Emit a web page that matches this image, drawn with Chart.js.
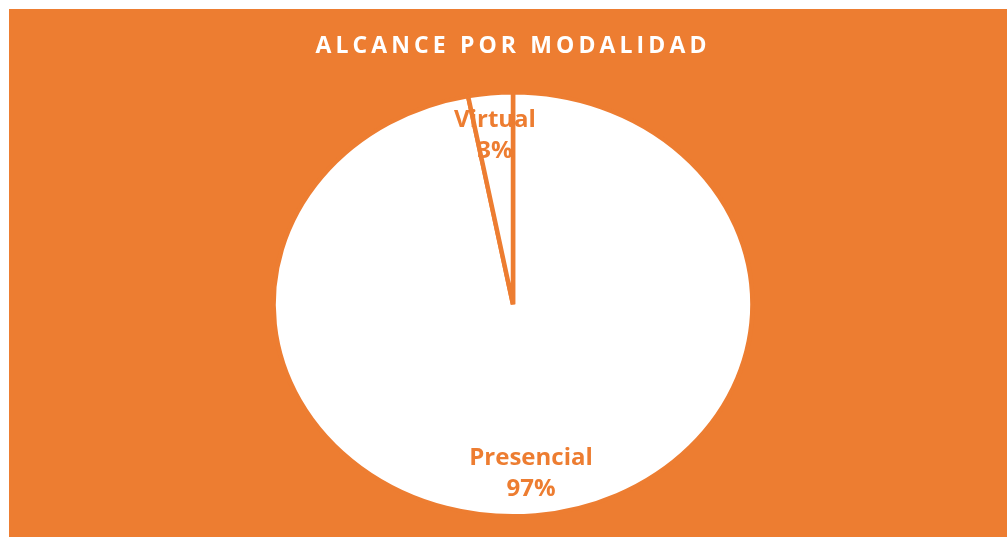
<!DOCTYPE html>
<html>
<head>
<meta charset="utf-8">
<script src="https://cdn.jsdelivr.net/npm/chart.js@4/dist/chart.umd.min.js"></script>
<style>
    html, body { margin: 0; padding: 0; background: #ffffff; overflow: hidden; }
    #frame {
        position: absolute; left: 9px; top: 9px;
        width: 998px; height: 528px;
        background: #ED7D31; overflow: hidden;
    }
    #wrap { position: absolute; left: 0; top: 0; width: 998px; height: 545px; }
</style>
</head>
<body>
<div id="frame"><div id="wrap"><canvas id="pieChart"></canvas></div></div>
<script>
const categories = ['Presencial', 'Virtual'];
const values = [97, 3];
const valueLabels = ['97%', '3%'];

const orange = '#ED7D31';
const ySquash = 421 / 476; // the reference pie is a little flatter than a circle

// squash the pie vertically around its centre, then write the labels
const ellipsePlugin = {
    id: 'ellipse',
    beforeDraw: (chart) => {
        chart.ctx.letterSpacing = '4.1px';
    },
    beforeDatasetsDraw: (chart) => {
        const arc = chart.getDatasetMeta(0).data[0];
        const ctx = chart.ctx;
        ctx.save();
        ctx.letterSpacing = '0px';
        ctx.translate(arc.x, arc.y);
        ctx.scale(1, ySquash);
        ctx.translate(-arc.x, -arc.y);
    },
    afterDatasetsDraw: (chart) => {
        const ctx = chart.ctx;
        ctx.restore();
        ctx.save();
        ctx.letterSpacing = '0px';
        ctx.fillStyle = orange;
        ctx.font = 'bold 24px "Open Sans"';
        ctx.textAlign = 'center';
        ctx.textBaseline = 'middle';
        chart.getDatasetMeta(0).data.forEach((arc, i) => {
            const mid = (arc.startAngle + arc.endAngle) / 2;
            const r = arc.outerRadius * 0.8;
            const px = arc.x + Math.cos(mid) * r;
            const py = arc.y + Math.sin(mid) * r * ySquash;
            ctx.fillText(categories[i], px, py - 15);
            ctx.fillText(valueLabels[i], px, py + 16);
        });
        ctx.restore();
    }
};

const ctx = document.getElementById('pieChart').getContext('2d');
new Chart(ctx, {
    type: 'pie',
    data: {
        labels: categories,
        datasets: [{
            data: values,
            backgroundColor: '#ffffff',
            borderColor: orange,
            borderWidth: 4.5,
        }]
    },
    options: {
        responsive: true,
        maintainAspectRatio: false,
        animation: false,
        layout: {
            padding: { left: 262, right: 252, top: 0, bottom: 8 }
        },
        plugins: {
            legend: { display: false },
            tooltip: { enabled: false },
            title: {
                display: true,
                text: 'ALCANCE POR MODALIDAD',
                color: '#ffffff',
                font: { family: 'Open Sans', size: 23, weight: 'bold' },
                padding: { top: 24, bottom: 2 }
            }
        }
    },
    plugins: [ellipsePlugin]
});
</script>
</body>
</html>
